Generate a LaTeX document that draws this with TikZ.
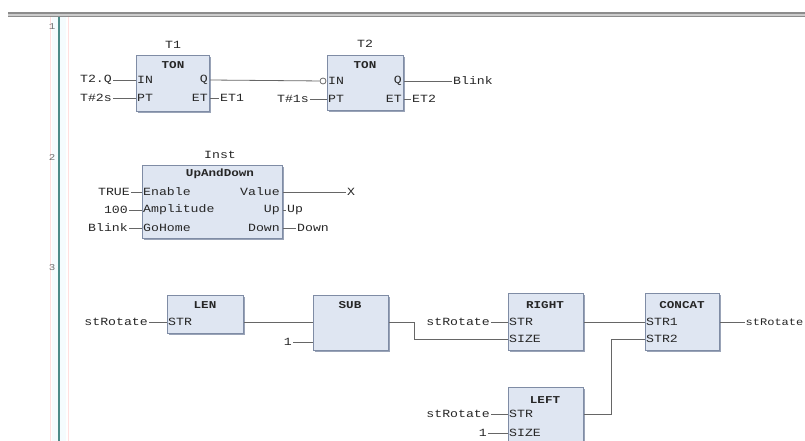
\documentclass[tikz,border=0pt]{standalone}
\usepackage{fontspec}
\newfontfamily\plcfont[FakeStretch=1.2]{Liberation Mono}
\usetikzlibrary{positioning, shadows}
\definecolor{fbfill}{HTML}{DFE6F2}
\definecolor{fbline}{HTML}{7F8CA5}
\definecolor{gutter}{HTML}{4D8B89}

\begin{document}
\begin{tikzpicture}[x=1pt, y=-1pt,
  every node/.style={font=\plcfont\fontsize{11}{11}\selectfont, text=black!85, inner sep=1pt},
  fb/.style={rectangle, draw=fbline, fill=fbfill, line width=1pt, anchor=north west, inner sep=0pt,
    drop shadow={shadow xshift=1.3pt, shadow yshift=-1.3pt, fill=fbline!80, opacity=1}},
  fbtitle/.style={font=\plcfont\bfseries\fontsize{10.5}{10.5}\selectfont},
  pinl/.style={anchor=west},
  pinr/.style={anchor=east},
  varl/.style={anchor=east},
  varr/.style={anchor=west},
  rownum/.style={font=\plcfont\fontsize{9}{9}\selectfont, text=black!55},
  wire/.style={draw=black!60, line width=0.8pt},
]
  \useasboundingbox (0,0) rectangle (805,441);
  \clip (0,0) rectangle (805,441);

  % Kopf und Randleiste
  \fill[black!45] (8,12) rectangle (805,14);
  \fill[black!20] (8,14) rectangle (805,16);
  \fill[black!45] (8,16) rectangle (805,17.5);
  \fill[cyan!4] (52,17.5) rectangle (66,441);
  \draw[red!12] (50,17.5) -- (50,441);
  \draw[red!12] (68,17.5) -- (68,441);
  \draw[gutter, line width=1.6pt] (59,17.5) -- (59,441);
  \node[rownum] (n1) at (52,27) {1};
  \node[rownum] (n2) at (52,157) {2};
  \node[rownum] (n3) at (52,268) {3};

  % Netzwerk 1: T1
  \node (T1name) at (173,45) {T1};
  \node[fb, minimum width=73pt, minimum height=56pt] (T1) at (136,55) {};
  \node[fbtitle] (T1type) at (173,65) {TON};
  \node[pinl] (T1in) at (136,80) {IN};
  \node[pinl] (T1pt) at (136,98) {PT};
  \node[pinr] (T1q) at (209,80) {Q};
  \node[pinr] (T1et) at (209,98) {ET};
  \node[varl] (vT2Q) at (113,80) {T2.Q};
  \node[varl] (vT2s) at (113,98) {T\#2s};
  \node[varr] (vET1) at (219,98) {ET1};
  \draw[wire] (vT2Q) -- (T1.west |- T1in);
  \draw[wire] (vT2s) -- (T1.west |- T1pt);
  \draw[wire] (T1.east |- T1et) -- (vET1);

  % Netzwerk 1: T2
  \node (T2name) at (365,44) {T2};
  \node[fb, minimum width=76pt, minimum height=55pt] (T2) at (327,55) {};
  \node[fbtitle] (T2type) at (365,65) {TON};
  \node[pinl] (T2in) at (327,81) {IN};
  \node[pinl] (T2pt) at (327,99) {PT};
  \node[pinr] (T2q) at (403,81) {Q};
  \node[pinr] (T2et) at (403,99) {ET};
  \node[circle, draw=black!60, fill=white, line width=0.8pt, minimum size=6pt, inner sep=0pt] (neg) at (323,81) {};
  \node[varl] (vT1s) at (310,99) {T\#1s};
  \node[varr] (vBlink) at (452,81) {Blink};
  \node[varr] (vET2) at (411,99) {ET2};
  \draw[wire] (T1.east |- T1q) -- (neg);
  \draw[wire] (vT1s) -- (T2.west |- T2pt);
  \draw[wire] (T2.east |- T2q) -- (vBlink);
  \draw[wire] (T2.east |- T2et) -- (vET2);

  % Netzwerk 2: Inst
  \node (Iname) at (220,155) {Inst};
  \node[fb, minimum width=140pt, minimum height=73pt] (Inst) at (142,165) {};
  \node[fbtitle] (Itype) at (220,174) {UpAndDown};
  \node[pinl] (Ien) at (142,192) {Enable};
  \node[pinl] (Iamp) at (142,210) {Amplitude};
  \node[pinl] (Igo) at (142,228) {GoHome};
  \node[pinr] (Ival) at (281,192) {Value};
  \node[pinr] (Iup) at (281,210) {Up};
  \node[pinr] (Idown) at (281,228) {Down};
  \node[varl] (vTRUE) at (131,192) {TRUE};
  \node[varl] (v100) at (129,210) {100};
  \node[varl] (vBlink2) at (129,228) {Blink};
  \node[varr] (vX) at (346,192) {X};
  \node[varr] (vUp) at (286,210) {Up};
  \node[varr] (vDown) at (296,228) {Down};
  \draw[wire] (vTRUE) -- (Inst.west |- Ien);
  \draw[wire] (v100) -- (Inst.west |- Iamp);
  \draw[wire] (vBlink2) -- (Inst.west |- Igo);
  \draw[wire] (Inst.east |- Ival) -- (vX);
  \draw[wire] (Inst.east |- Iup) -- (vUp);
  \draw[wire] (Inst.east |- Idown) -- (vDown);

  % Netzwerk 3
  \node[fb, minimum width=76pt, minimum height=38pt] (LEN) at (167,295) {};
  \node[fbtitle] (LENtype) at (205,305) {LEN};
  \node[pinl] (LENstr) at (167,322) {STR};
  \node[varl] (vRot1) at (149,322) {stRotate};
  \draw[wire] (vRot1) -- (LEN.west |- LENstr);

  \node[fb, minimum width=75pt, minimum height=55pt] (SUB) at (313,295) {};
  \node[fbtitle] (SUBtype) at (350,305) {SUB};
  \node[varl] (v1a) at (293,342) {1};
  \draw[wire] (LEN.east |- LENstr) -- (SUB.west |- LENstr);
  \draw[wire] (v1a) -- (SUB.west |- v1a);

  \node[fb, minimum width=75pt, minimum height=57pt] (RIGHT) at (508,293) {};
  \node[fbtitle] (RIGHTtype) at (545,305) {RIGHT};
  \node[pinl] (Rstr) at (508,322) {STR};
  \node[pinl] (Rsize) at (508,339) {SIZE};
  \node[varl] (vRot2) at (491,322) {stRotate};
  \draw[wire] (vRot2) -- (RIGHT.west |- Rstr);
  \draw[wire] (SUB.east |- LENstr) -- ++(25,0) |- (RIGHT.west |- Rsize);

  \node[fb, minimum width=74pt, minimum height=57pt] (CONCAT) at (645,293) {};
  \node[fbtitle] (CONCATtype) at (682,305) {CONCAT};
  \node[pinl] (Cstr1) at (645,322) {STR1};
  \node[pinl] (Cstr2) at (645,339) {STR2};
  \node[varr, font=\plcfont\fontsize{10}{10}\selectfont, inner sep=0.5pt] (vRot4) at (745,322) {stRotate};
  \draw[wire] (RIGHT.east |- Rstr) -- (CONCAT.west |- Cstr1);
  \draw[wire] (CONCAT.east |- Cstr1) -- (vRot4);

  \node[fb, minimum width=75pt, minimum height=70pt] (LEFT) at (508,387) {};
  \node[fbtitle] (LEFTtype) at (545,400) {LEFT};
  \node[pinl] (Lstr) at (508,414) {STR};
  \node[pinl] (Lsize) at (508,433) {SIZE};
  \node[varl] (vRot3) at (491,414) {stRotate};
  \node[varl] (v1b) at (488,433) {1};
  \draw[wire] (vRot3) -- (LEFT.west |- Lstr);
  \draw[wire] (v1b) -- (LEFT.west |- Lsize);
  \draw[wire] (LEFT.east |- Lstr) -- ++(27,0) |- (CONCAT.west |- Cstr2);
\end{tikzpicture}
\end{document}
